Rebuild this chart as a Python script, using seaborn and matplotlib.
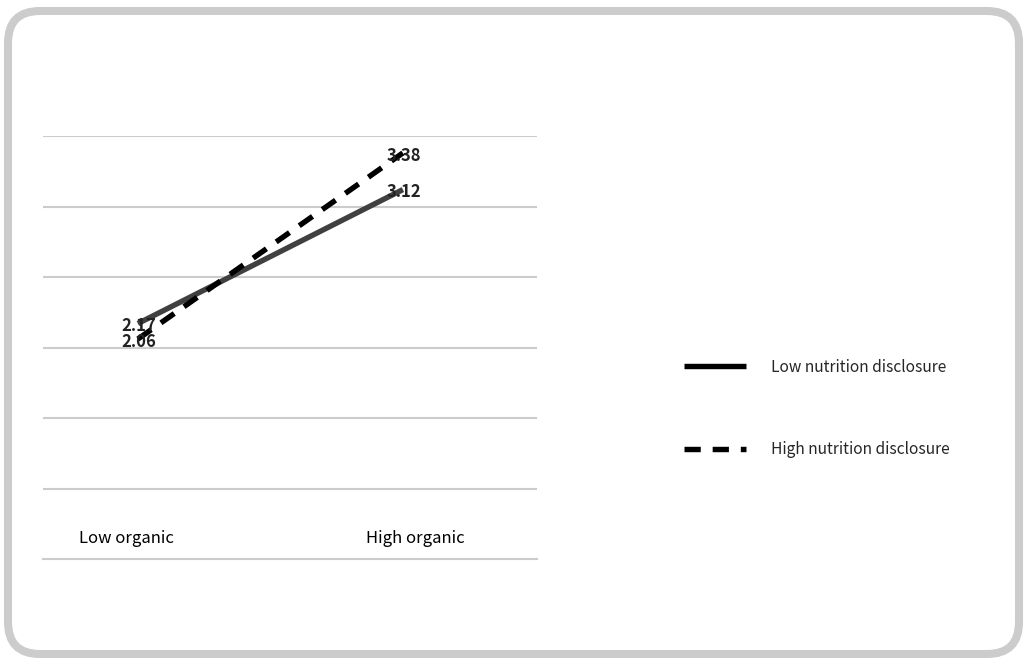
import pandas as pd
import matplotlib
matplotlib.use("Agg")
import matplotlib.pyplot as plt
import seaborn as sns
from matplotlib.patches import FancyBboxPatch

# datos del grafico
organic = ["Low organic", "High organic"]
nutrition = ["Low nutrition disclosure", "High nutrition disclosure"]
low_nutrition = [2.17, 3.12]
high_nutrition = [2.06, 3.38]

df = pd.DataFrame({
    "organic": organic * 2,
    "nutrition": [nutrition[0]] * 2 + [nutrition[1]] * 2,
    "score": low_nutrition + high_nutrition,
})

sns.set_style("white")
plt.rcParams["font.family"] = ["Noto Sans CJK KR", "DejaVu Sans"]

fig = plt.figure(figsize=(10.27, 6.6), dpi=100)

# marco redondeado en pixeles
bg = fig.add_axes([0, 0, 1, 1])
bg.set_xlim(0, 1027)
bg.set_ylim(660, 0)
bg.axis("off")
bg.add_patch(FancyBboxPatch((8, 11), 1011, 643, boxstyle="round,pad=0,rounding_size=32",
                            fill=False, edgecolor="#cccccc", linewidth=5.8))

ax = fig.add_axes([43 / 1027, 101 / 660, 494 / 1027, 423 / 660])
ax.set_facecolor("none")

sns.lineplot(data=df, x="organic", y="score", hue="nutrition", style="nutrition",
             palette=["#404040", "black"], dashes=[(1, 0), (3.0, 2.2)],
             linewidth=3.9, sort=False, ax=ax)

ax.set_ylim(0.5, 3.5)
ax.set_xlim(-0.358, 1.506)
ax.set_yticks([1.0, 1.5, 2.0, 2.5, 3.0, 3.5])
ax.yaxis.grid(True, color="#cccccc", linewidth=1.5)
ax.set_xticks([])
ax.tick_params(left=False, labelleft=False)
ax.set_xlabel("")
ax.set_ylabel("")
for s in ["top", "left", "right"]:
    ax.spines[s].set_visible(False)
ax.spines["bottom"].set_color("#cccccc")
ax.spines["bottom"].set_linewidth(1.5)

# etiquetas de categorias
for i, lab in enumerate(organic):
    ax.text(i + (-0.045 if i == 0 else 0.045), 0.645, lab, ha="center", va="center",
            fontsize=12, color="black")

# etiquetas de valores
for serie in [low_nutrition, high_nutrition]:
    for i, v in enumerate(serie):
        ax.text(i + 0.005, v - 0.02, f"{v:.2f}", ha="center", va="center", fontsize=12,
                fontweight="bold", color="#222222")

sns.move_legend(ax, "center left", bbox_to_anchor=(676 / 1027, 0.381),
                bbox_transform=fig.transFigure, frameon=False, title="",
                fontsize=11.2, handlelength=4.0, handletextpad=1.6,
                labelspacing=4.2, borderpad=0)
leg = ax.get_legend()
for h in leg.get_lines():
    h.set_color("black")
    h.set_linewidth(3.9)

fig.savefig("out.png", dpi=100)
